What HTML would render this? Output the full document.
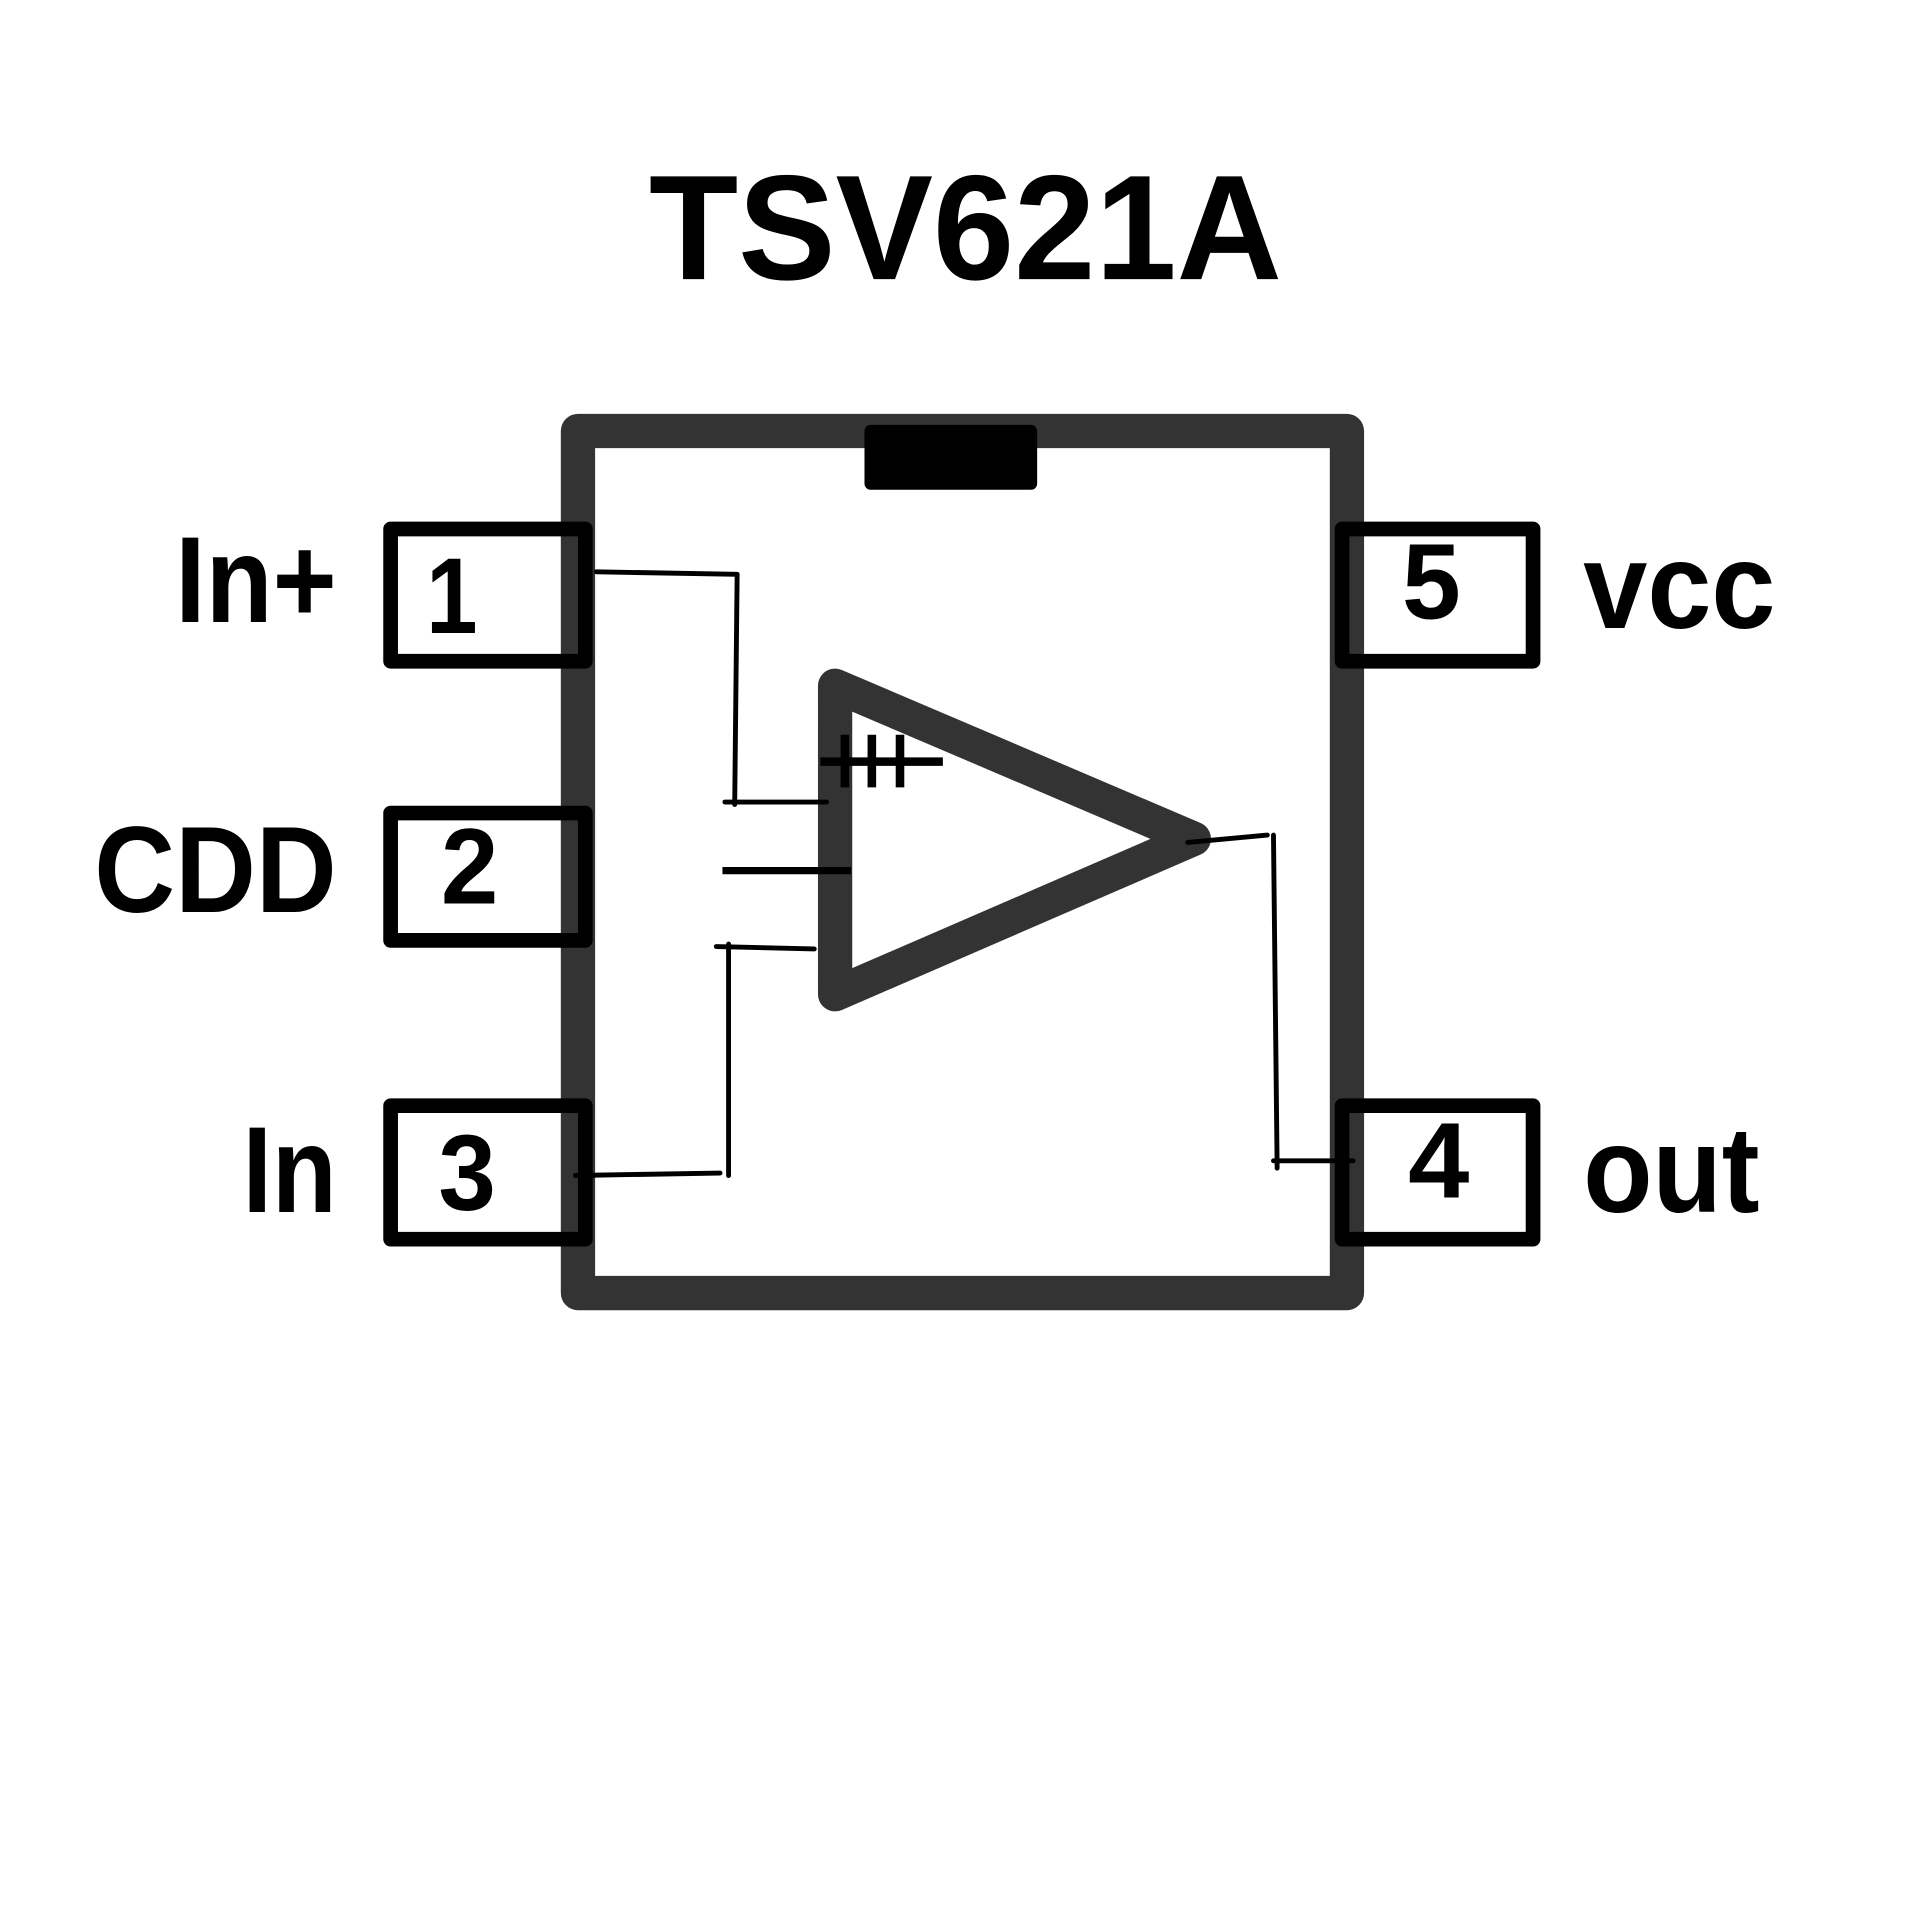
<!DOCTYPE html>
<html><head><meta charset="utf-8"><style>html,body{margin:0;padding:0;background:#fff}svg{display:block}</style></head>
<body>
<svg width="1920" height="1920" viewBox="0 0 1568 1568" xmlns="http://www.w3.org/2000/svg">
<rect width="1568" height="1568" fill="#fff"/>
<text x="530" y="228" font-family="'Liberation Sans',Arial,sans-serif" font-weight="bold" font-size="122" textLength="517" lengthAdjust="spacingAndGlyphs">TSV621A</text>
<rect x="472" y="352" width="628" height="704" fill="#fff" stroke="#333" stroke-width="28" stroke-linejoin="round"/>
<rect x="706" y="347" width="141" height="53" rx="5" fill="#000"/>
<g fill="none" stroke="#000" stroke-width="12" stroke-linejoin="round">
<rect x="319" y="432" width="159" height="108"/>
<rect x="319" y="664" width="159" height="104"/>
<rect x="319" y="903" width="159" height="109"/>
<rect x="1096" y="432" width="156" height="108"/>
<rect x="1096" y="903" width="156" height="109"/>
</g>
<path d="M682 560 L682 812 L975 685 Z" fill="none" stroke="#333" stroke-width="28" stroke-linejoin="round"/>
<g stroke="#000" stroke-width="4" fill="none" stroke-linecap="round">
<path d="M487 467 L602 469"/>
<path d="M602 469 L600 657"/>
<path d="M592 655 L675 655"/>
<path d="M585 773 L665 775"/>
<path d="M595 771 L595 960"/>
<path d="M470 960 L588 958"/>
<path d="M970 688 L1035 682"/>
<path d="M1040 682 L1043 954"/>
<path d="M1040 948 L1105 948"/>
</g>
<path d="M590 711 L695 711" stroke="#000" stroke-width="6"/>
<g stroke="#000" stroke-width="7">
<path d="M670 622 L770 622"/>
<path d="M690 600 L690 643"/>
<path d="M712 600 L712 643"/>
<path d="M735 600 L735 643"/>
</g>
<g font-family="'Liberation Sans',Arial,sans-serif" font-weight="bold" fill="#000">
<text x="143" y="508" font-size="100" textLength="132" lengthAdjust="spacingAndGlyphs">In+</text>
<text x="77" y="745" font-size="100" textLength="198" lengthAdjust="spacingAndGlyphs">CDD</text>
<text x="198" y="990" font-size="100" textLength="77" lengthAdjust="spacingAndGlyphs">In</text>
<text x="1293" y="513" font-size="100" textLength="157" lengthAdjust="spacingAndGlyphs">vcc</text>
<text x="1293" y="990" font-size="100" textLength="144" lengthAdjust="spacingAndGlyphs">out</text>
<text x="348" y="517" font-size="88" textLength="42" lengthAdjust="spacingAndGlyphs">1</text>
<text x="360" y="738" font-size="88" textLength="47" lengthAdjust="spacingAndGlyphs">2</text>
<text x="358" y="988" font-size="88" textLength="47" lengthAdjust="spacingAndGlyphs">3</text>
<text x="1145" y="505" font-size="88" textLength="48" lengthAdjust="spacingAndGlyphs">5</text>
<text x="1150" y="978" font-size="88" textLength="50" lengthAdjust="spacingAndGlyphs">4</text>
</g>
</svg>
</body></html>
